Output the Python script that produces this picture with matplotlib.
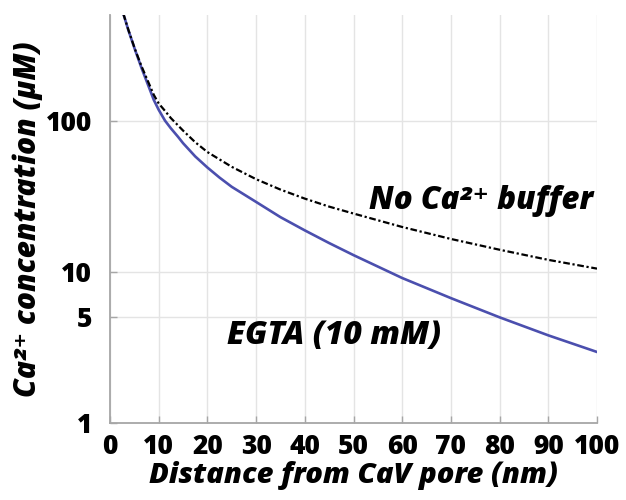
import numpy as np
import matplotlib.pyplot as plt
from matplotlib.ticker import FixedLocator, NullLocator

# distances (nm) and Ca2+ concentrations (uM)
dist_free = [2.73, 3.76, 5.13, 6.5, 8.2, 9, 10, 11.3, 12.5, 15, 17.5, 20, 25, 30, 35,
             40, 45, 50, 60, 70, 80, 90, 100]
ca_free = [511, 400, 297, 228, 170, 148, 130, 116, 104, 86, 72, 62, 49.5, 41, 35,
           30.5, 27, 24.3, 19.8, 16.5, 14.0, 12.0, 10.5]

dist_egta = [2.73, 3.76, 5.13, 6.5, 8.2, 9, 10, 11.3, 12.5, 14, 15, 17.5, 20, 22.5, 25,
             30, 35, 40, 45, 50, 60, 70, 80, 90, 100]
ca_egta = [511, 398, 295, 222, 160, 137, 118, 100, 89, 78, 71, 58, 49, 42, 36.5,
           29, 23, 18.8, 15.5, 12.9, 9.1, 6.7, 5.0, 3.8, 2.95]

xticks = list(range(0, 101, 10))
yticks = [1, 5, 10, 100]
ytick_labels = ["1", "5", "10", "100"]

FONT = ["Open Sans", "DejaVu Sans"]
GRID = "#e4e4e4"
SPINE = "#a6a6a6"

fig = plt.figure(figsize=(6.26, 5.0), dpi=100)
ax = fig.add_axes([0.1757, 0.154, 0.778, 0.816])

ax.plot(dist_free, ca_free, color="black", lw=1.6, linestyle=(0, (3, 1.2, 1, 1.2)), zorder=3)
ax.plot(dist_egta, ca_egta, color="#4b4fae", lw=1.9, zorder=2)

ax.set_yscale("log")
ax.set_xlim(0, 100)
ax.set_ylim(1, 500)
ax.xaxis.set_major_locator(FixedLocator(xticks))
ax.yaxis.set_major_locator(FixedLocator(yticks))
ax.yaxis.set_minor_locator(NullLocator())
ax.set_xticklabels([str(t) for t in xticks])
ax.set_yticklabels(ytick_labels)

for lab in ax.get_xticklabels() + ax.get_yticklabels():
    lab.set_fontfamily(FONT)
    lab.set_fontweight(800)
    lab.set_fontsize(19)

ax.grid(True, color=GRID, lw=1.0, zorder=0)
ax.tick_params(direction="in", length=5, width=1, color=SPINE)
ax.tick_params(axis="y", pad=13)
ax.tick_params(axis="x", pad=8)
for s in ["top", "right"]:
    ax.spines[s].set_visible(False)
for s in ["left", "bottom"]:
    ax.spines[s].set_color(SPINE)
    ax.spines[s].set_linewidth(1.3)

ax.set_xlabel("Distance from CaV pore (nm)", fontfamily=FONT, fontweight=800,
              fontstyle="italic", fontsize=21, labelpad=1)
ax.set_ylabel("Ca²⁺ concentration (µM)", fontfamily=FONT, fontweight=800,
              fontstyle="italic", fontsize=21.5, labelpad=2)

ax.text(99.3, 29.5, "No Ca²⁺ buffer", fontfamily=FONT, fontweight=800,
        fontstyle="italic", fontsize=22.5, ha="right", va="center")
ax.text(24, 3.77, "EGTA (10 mM)", fontfamily=FONT, fontweight=800,
        fontstyle="italic", fontsize=23, ha="left", va="center")

fig.savefig("out.png", dpi=100)
